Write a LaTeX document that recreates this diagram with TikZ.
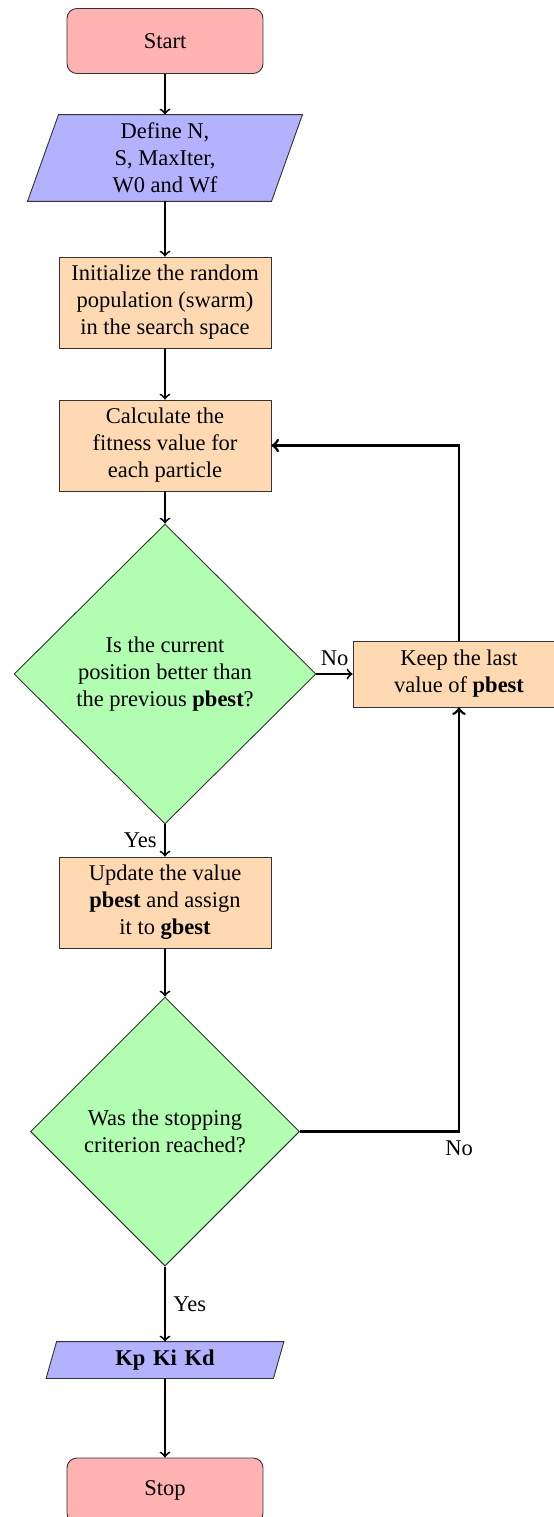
\documentclass[tikz,border=0pt]{standalone}
\usepackage{fontspec}
\setmainfont{Liberation Serif}
\usetikzlibrary{shapes.geometric,calc,backgrounds}
\begin{document}
\begin{tikzpicture}[x=0.44444pt,y=-0.44444pt,
  base/.style={draw=black!80, thin, align=center, inner sep=2pt},
  term/.style={base, rounded corners=4.4pt, fill=red!30, minimum width=87.1pt, minimum height=28.9pt},
  proc/.style={base, fill=orange!30, minimum width=94.2pt, minimum height=40.4pt},
  dec/.style={base, diamond, aspect=1, fill=green!30},
  io/.style={align=center, inner sep=0pt},
  iofill/.style={draw=black!80, thin, fill=blue!30},
  flow/.style={->, thick},
  loopline/.style={->, very thick},
]
\useasboundingbox (0,0) rectangle (554,1517);
\node[term] (start) at (165,41) {Start};
\node[io, minimum width=121.8pt, minimum height=38.2pt] (def) at (165,158) {Define N,\\ S, MaxIter,\\ W0 and Wf};
\node[proc] (init) at (165,302.5) {Initialize the random\\ population (swarm)\\ in the search space};
\node[proc] (calc) at (165,445.5) {Calculate the\\ fitness value for\\ each particle};
\node[dec, minimum width=134.2pt, minimum height=133.3pt] (d1) at (165,674) {Is the current\\ position better than\\ the previous \textbf{pbest}?};
\node[proc, minimum height=29.3pt] (keep) at (459,674) {Keep the last\\ value of \textbf{pbest}};
\node[proc] (upd) at (165,902.5) {Update the value\\ \textbf{pbest} and assign\\ it to \textbf{gbest}};
\node[dec, minimum width=119.6pt, minimum height=119.6pt] (d2) at (165,1131.5) {Was the stopping\\ criterion reached?};
\node[io, minimum width=105.3pt, minimum height=16pt] (kp) at (165,1360) {\textbf{Kp\hspace{3.4pt}Ki\hspace{3.4pt}Kd}};
\node[term] (stop) at (165,1490.5) {Stop};
\begin{scope}[on background layer]
\filldraw[iofill] ($(def.north west)+(31,0)$) -- (def.north east) -- ($(def.south east)+(-31,0)$) -- (def.south west) -- cycle;
\filldraw[iofill] ($(kp.north west)+(10.5,0)$) -- (kp.north east) -- ($(kp.south east)+(-10.5,0)$) -- (kp.south west) -- cycle;
\end{scope}
\draw[flow] (start) -- (def);
\draw[flow] (def) -- (init);
\draw[flow] (init) -- (calc);
\draw[flow] (calc) -- (d1);
\draw[flow] (d1) -- node[above] {No} (keep);
\draw[flow] (d1) -- node[left] {Yes} (upd);
\draw[flow] (upd) -- (d2);
\draw[loopline] (d2.east) -| node[pos=0.5, below] {No} (keep.south);
\draw[loopline] (keep.north) |- (calc.east);
\draw[flow] (d2) -- node[right] {Yes} (kp);
\draw[flow] (kp) -- (stop);
\end{tikzpicture}
\end{document}
